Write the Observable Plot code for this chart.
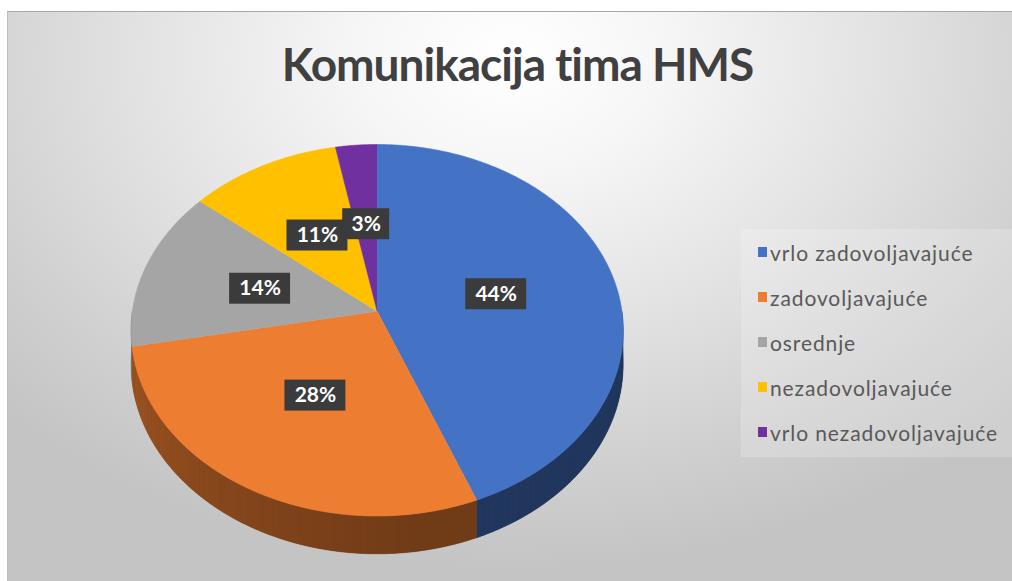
<!DOCTYPE html>
<html>
<head>
<meta charset="utf-8">
<script src="https://cdn.jsdelivr.net/npm/d3@7"></script>
<script src="https://cdn.jsdelivr.net/npm/@observablehq/plot@0.6"></script>
<style>
  html, body { margin: 0; padding: 0; background: #ffffff; width: 1012px; height: 581px; overflow: hidden; }
  #frame {
    position: absolute; left: 7px; top: 11px; width: 1005px; height: 570px; box-sizing: border-box;
    border-top: 1px solid #a8a8a8; border-left: 1px solid #bdbdbd;
    background: radial-gradient(ellipse 70% 90% at 50% 8%, #ffffff 0%, #f6f6f6 22%, #e3e3e3 52%, #d0d0d0 80%, #c4c4c4 100%);
  }
  #title {
    position: absolute; left: 7px; top: 24px; width: 1005px; text-align: center;
    font-family: Lato, sans-serif; font-weight: 700; font-size: 46px; color: #404040; line-height: 1.2;
    letter-spacing: -1px;
  }
  #chart { position: absolute; left: 0; top: 99px; }
  #legendBox { position: absolute; left: 733px; top: 217px; width: 272px; height: 228px; background: rgba(255,255,255,0.2); }
  .item { position: absolute; left: 750px; height: 24px; display: flex; align-items: center;
    font-family: Lato, sans-serif; font-size: 21px; letter-spacing: 0.9px; color: #595959; white-space: nowrap; }
  .sw { width: 9px; height: 10px; margin-right: 3px; }
</style>
</head>
<body>
<div id="frame">
  <div id="title"></div>
  <div id="legendBox"></div>
  <div id="legend"></div>
  <div id="chart"></div>
</div>
<script>
// ---- data ----
const title = "Komunikacija tima HMS";
const categories = ["vrlo zadovoljavajuće", "zadovoljavajuće", "osrednje", "nezadovoljavajuće", "vrlo nezadovoljavajuće"];
const values = [44, 28, 14, 11, 3];
const labels = ["44%", "28%", "14%", "11%", "3%"];
const colors = ["#4472C4", "#ED7D31", "#A5A5A5", "#FFC000", "#7030A0"];

// ---- layout ----
const W = 1005, H = 471;
const CX = 369, CY = 200, RX = 245, RY = 184;   // pie centre and radii (px)
const PERSP = 0.102;   // perspective strength
const THICK = 0.185;   // pie thickness in y units

document.getElementById("title").textContent = title;

const pie = d3.pie().sort(null).value(d => d)(values);
function arcAngles(a0, a1, step) {
  const n = Math.max(2, Math.ceil((a1 - a0) / step));
  return d3.range(n + 1).map(i => a0 + (a1 - a0) * i / n);
}
function proj(r, a, h = 0) {
  const X = r * Math.sin(a), Z = -r * Math.cos(a);
  const w = 1 / (1 - PERSP * Z);
  return {u: X * w, v: (Z + h) * w};
}
function sideColor(base, a) {
  const t = (a * 180 / Math.PI - 90) / 180;
  const k = Math.max(1.05, Math.min(2.1, 2.24 - 2.0 * (t - 0.38)));
  return d3.rgb(base).darker(k).formatHex();
}
const FINE = Math.PI / 360, STRIP = Math.PI / 120;

// top faces
const topPts = pie.flatMap((s, i) => [
  {...proj(0, 0), id: "t" + i, color: colors[i]},
  ...arcAngles(s.startAngle, s.endAngle, FINE).map(a => ({...proj(1, a), id: "t" + i, color: colors[i]}))
]);

// side walls (front half only): a solid base per slice, then shaded strips
const sideBase = [];
const sidePts = [];
pie.forEach((s, i) => {
  const a0 = Math.max(s.startAngle, Math.PI / 2), a1 = Math.min(s.endAngle, 3 * Math.PI / 2);
  if (a1 <= a0) return;
  const fine = arcAngles(a0, a1, FINE);
  const mid = sideColor(colors[i], (a0 + a1) / 2);
  fine.forEach(a => sideBase.push({...proj(1, a), id: "b" + i, color: mid}));
  fine.slice().reverse().forEach(a => sideBase.push({...proj(1, a, THICK), id: "b" + i, color: mid}));
  const as = arcAngles(a0, a1, STRIP);
  for (let j = 0; j < as.length - 1; j++) {
    const id = `s${i}-${j}`, c = sideColor(colors[i], (as[j] + as[j + 1]) / 2);
    const seg = arcAngles(as[j], as[j + 1], FINE);
    seg.forEach(a => sidePts.push({...proj(1, a), id, color: c}));
    seg.slice().reverse().forEach(a => sidePts.push({...proj(1, a, THICK), id, color: c}));
  }
});

// shadow outline
const shadowPts = arcAngles(0, 2 * Math.PI, FINE).map(a => ({...proj(1.02, a, THICK + 0.06), id: "shadow"}));

// labels
const labelPts = pie.map((s, i) => {
  const m = (s.startAngle + s.endAngle) / 2;
  const p = proj(0.5, m);
  const bw = 19 + 14 * labels[i].length, bh = 31;
  return {...p, text: labels[i],
    u1: p.u - bw / 2 / RX, u2: p.u + bw / 2 / RX,
    v1: p.v - bh / 2 / RY, v2: p.v + bh / 2 / RY};
});

const chart = Plot.plot({
  width: W, height: H, margin: 0,
  x: {domain: [-CX / RX, (W - CX) / RX], range: [0, W], axis: null},
  y: {domain: [-CY / RY, (H - CY) / RY], range: [0, H], axis: null},
  color: {type: "identity"},
  style: {background: "transparent", overflow: "visible"},
  marks: [
    Plot.line(shadowPts, {x: "u", y: "v", z: "id", fill: "#6f6f6f", stroke: "none", fillOpacity: 0.55, ariaLabel: "shadow"}),
    Plot.line(sideBase, {x: "u", y: "v", z: "id", fill: "color", stroke: "color", strokeWidth: 0.5, curve: "linear"}),
    Plot.line(sidePts, {x: "u", y: "v", z: "id", fill: "color", stroke: "none", curve: "linear"}),
    Plot.line(topPts, {x: "u", y: "v", z: "id", fill: "color", stroke: "color", strokeWidth: 0.6, curve: "linear"}),
    Plot.rect(labelPts, {x1: "u1", x2: "u2", y1: "v1", y2: "v2", fill: "#3b3b3b", ariaLabel: "labelbox"}),
    Plot.text(labelPts, {x: "u", y: "v", text: "text", fill: "white", fontSize: 21, fontWeight: "bold", fontFamily: "Lato, sans-serif"})
  ]
});

// decorations: blur the shadow, dotted texture + drop shadow for label boxes
const ns = "http://www.w3.org/2000/svg";
const defs = document.createElementNS(ns, "defs");
defs.innerHTML = `<pattern id="dots" width="4" height="4" patternUnits="userSpaceOnUse">
  <rect width="4" height="4" fill="#393939"></rect><rect x="1" y="1" width="1" height="1" fill="#585858"></rect></pattern>`;
chart.insertBefore(defs, chart.firstChild);
const sh = chart.querySelector('g[aria-label="shadow"]');
if (sh) sh.style.filter = "blur(9px)";
const lb = chart.querySelector('g[aria-label="labelbox"]');
if (lb) {
  lb.style.filter = "drop-shadow(2px 3px 2px rgba(0,0,0,0.45))";
  lb.querySelectorAll("rect").forEach(r => r.setAttribute("fill", "url(#dots)"));
}
document.getElementById("chart").appendChild(chart);

// legend
const legend = document.getElementById("legend");
const itemY = [240, 285, 330, 375, 420];
categories.forEach((c, i) => {
  const d = document.createElement("div");
  d.className = "item";
  d.style.top = (itemY[i] - 12) + "px";
  d.innerHTML = `<span class="sw" style="background:${colors[i]}"></span><span>${c}</span>`;
  legend.appendChild(d);
});
</script>
</body>
</html>
